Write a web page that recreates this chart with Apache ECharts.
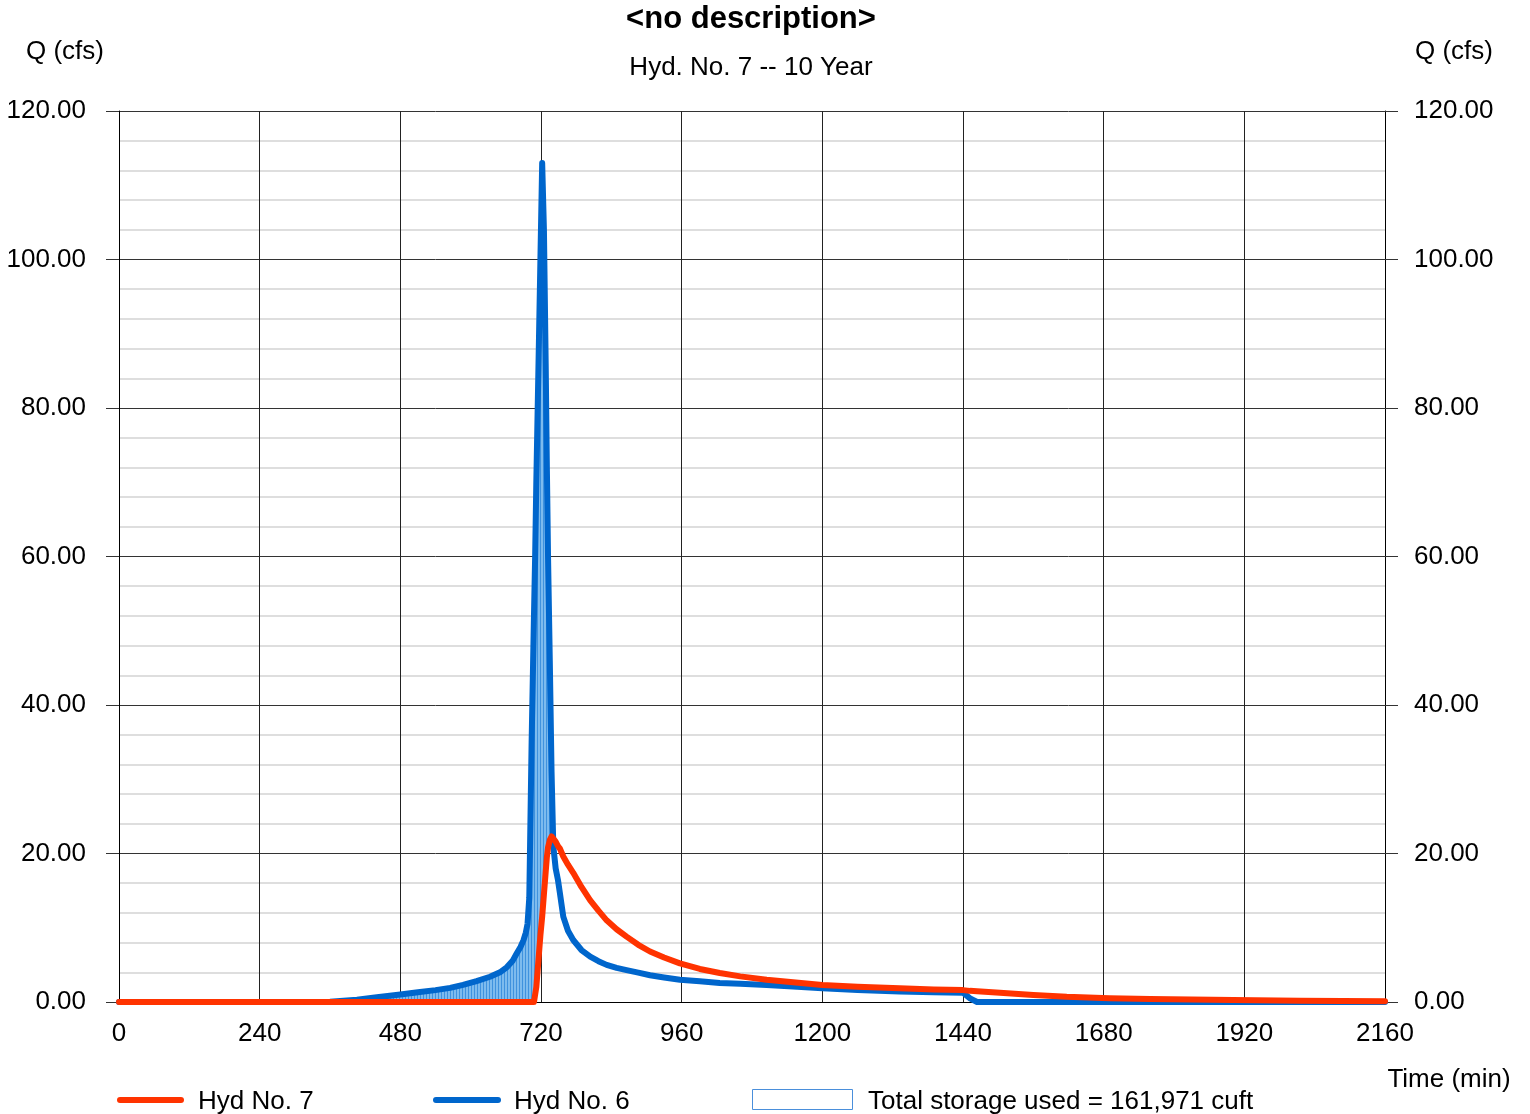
<!DOCTYPE html>
<html>
<head>
<meta charset="utf-8">
<script src="https://cdn.jsdelivr.net/npm/echarts@6/dist/echarts.min.js"></script>
<style>
html,body{margin:0;padding:0;background:#fff;}
#chart{width:1530px;height:1114px;}
</style>
</head>
<body>
<div id="chart"></div>
<script>
// ---- Data (time in minutes, flow in cfs) ----
var time = [0, 300, 360, 406, 440, 480, 510, 540, 565, 587, 610, 633, 650, 662, 672, 679, 685, 690, 694, 697, 700, 704, 708, 710, 712, 716, 719, 722, 725, 728, 730, 732, 735, 738, 741, 745, 749, 752, 758, 766, 775, 789, 804, 818, 832, 849, 866, 886, 906, 930, 957, 991, 1025, 1060, 1105, 1150, 1200, 1260, 1332, 1390, 1440, 1452, 1464, 1503, 1560, 1617, 1690, 1759, 1830, 1901, 2015, 2160];
var hyd6 = [0, 0, 0.05, 0.3, 0.65, 1.0, 1.3, 1.6, 1.9, 2.3, 2.8, 3.4, 4.0, 4.7, 5.6, 6.6, 7.4, 8.3, 9.3, 10.5, 14, 35, 52, 60, 70, 87, 100, 113, 104, 86, 72, 60, 46, 31, 21, 18, 16.4, 14.8, 11.5, 9.6, 8.35, 7.0, 6.1, 5.5, 5.0, 4.6, 4.3, 3.95, 3.6, 3.3, 3.0, 2.8, 2.55, 2.45, 2.3, 2.1, 1.85, 1.6, 1.4, 1.3, 1.25, 0.5, 0, 0, 0, 0, 0, 0, 0, 0, 0, 0];
var hyd7 = [0, 0, 0, 0, 0, 0, 0, 0, 0, 0, 0, 0, 0, 0, 0, 0, 0, 0, 0, 0, 0, 0, 0, 0, 2, 6, 9, 11.5, 14.5, 17.5, 19.5, 20.8, 21.8, 22.3, 22, 21.6, 21.0, 20.7, 19.6, 18.5, 17.4, 15.5, 13.7, 12.3, 11, 9.8, 8.8, 7.7, 6.8, 6.0, 5.2, 4.45, 3.9, 3.45, 3.0, 2.65, 2.3, 2.05, 1.85, 1.7, 1.6, 1.5, 1.45, 1.25, 0.95, 0.7, 0.52, 0.4, 0.33, 0.27, 0.17, 0.1];
var xTicks = [0, 240, 480, 720, 960, 1200, 1440, 1680, 1920, 2160];
var yTicks = [0, 20, 40, 60, 80, 100, 120];
var titleText = '<no description>';
var subTitleText = 'Hyd. No. 7 -- 10 Year';
var legendNames = ['Hyd No. 7', 'Hyd No. 6', 'Total storage used = 161,971 cuft'];

// ---- Build series data ----
function pairs(vals){ return time.map(function(t,i){ return [t, vals[i]]; }); }

// hatch pattern for storage fill
var pc = document.createElement('canvas');
pc.width = 3; pc.height = 4;
var pctx = pc.getContext('2d');
pctx.fillStyle = '#7DBBEE'; pctx.fillRect(0,0,3,4);
pctx.fillStyle = '#3F92DE'; pctx.fillRect(0,0,1,4);

var FONT = '"Liberation Sans", Arial, sans-serif';
var chart = echarts.init(document.getElementById('chart'), null, {renderer:'canvas'});

var yAxisCommon = {
  type:'value', min:0, max:120, interval:20,
  axisLine:{show:true, lineStyle:{color:'#000', width:1}},
  axisTick:{show:true, length:13, inside:false, lineStyle:{color:'#333'}},
  minorTick:{show:false, splitNumber:5},
  minorSplitLine:{show:true, lineStyle:{color:'#D4D4D4', width:1.5}},
  splitLine:{show:true, lineStyle:{color:'#333', width:1}},
  axisLabel:{color:'#000', fontSize:26, fontFamily:FONT, formatter:function(v){return v.toFixed(2);}}
};

// storage polygon: between Hyd No. 6 (upper) and Hyd No. 7 (lower) where inflow exceeds outflow
function renderStorage(params, api){
  var upper = [], lower = [];
  for (var i = 0; i < time.length; i++){
    upper.push(api.coord([time[i], Math.max(hyd6[i], hyd7[i])]));
    lower.push(api.coord([time[i], hyd7[i]]));
  }
  var pts = upper.concat(lower.reverse());
  return {type:'polygon', shape:{points:pts}, style:{fill:{image:pc, repeat:'repeat'}, stroke:null}, silent:true};
}

chart.setOption({
  animation:false,
  backgroundColor:'#fff',
  grid:{left:119, right:145, top:111, bottom:112, containLabel:false},
  xAxis:{
    type:'value', min:0, max:2160, interval:240,
    axisLine:{show:true, lineStyle:{color:'#000'}},
    axisTick:{show:false},
    splitLine:{show:true, lineStyle:{color:'#222', width:1}},
    axisLabel:{color:'#000', fontSize:26, fontFamily:FONT, margin:19, formatter:function(v){return String(v);}}
  },
  yAxis:[
    Object.assign({}, yAxisCommon, {position:'left', axisLabel:Object.assign({}, yAxisCommon.axisLabel, {margin:33})}),
    Object.assign({}, yAxisCommon, {position:'right', splitLine:{show:false}, minorSplitLine:{show:false}, axisLabel:Object.assign({}, yAxisCommon.axisLabel, {margin:29})})
  ],
  series:[
    {name:legendNames[2], type:'custom', data:[[0,0]], renderItem:renderStorage, silent:true, z:1, clip:true},
    {name:legendNames[1], type:'line', data:pairs(hyd6), symbol:'none',
     lineStyle:{color:'#0066CC', width:6, join:'round', cap:'round'}, z:3},
    {name:legendNames[0], type:'line', data:pairs(hyd7), symbol:'none',
     lineStyle:{color:'#FF3300', width:6, join:'round', cap:'round'}, z:4}
  ],
  graphic:[
    {type:'text', x:751, y:19, style:{text:titleText, font:'bold 31px '+FONT, fill:'#000', align:'center', verticalAlign:'middle'}},
    {type:'text', x:751, y:68, style:{text:subTitleText, font:'26px '+FONT, fill:'#000', align:'center', verticalAlign:'middle'}},
    {type:'text', x:65, y:52, style:{text:'Q (cfs)', font:'26px '+FONT, fill:'#000', align:'center', verticalAlign:'middle'}},
    {type:'text', x:1454, y:52, style:{text:'Q (cfs)', font:'26px '+FONT, fill:'#000', align:'center', verticalAlign:'middle'}},
    {type:'text', x:1449, y:1080, style:{text:'Time (min)', font:'26px '+FONT, fill:'#000', align:'center', verticalAlign:'middle'}},
    {type:'line', shape:{x1:120, y1:1100, x2:181, y2:1100}, style:{stroke:'#FF3300', lineWidth:6, lineCap:'round'}},
    {type:'text', x:198, y:1102, style:{text:legendNames[0], font:'26px '+FONT, fill:'#000', align:'left', verticalAlign:'middle'}},
    {type:'line', shape:{x1:436, y1:1100, x2:498, y2:1100}, style:{stroke:'#0066CC', lineWidth:6, lineCap:'round'}},
    {type:'text', x:514, y:1102, style:{text:legendNames[1], font:'26px '+FONT, fill:'#000', align:'left', verticalAlign:'middle'}},
    {type:'rect', shape:{x:752.5, y:1089.5, width:100, height:20}, style:{fill:'#fff', stroke:'#4A8FDB', lineWidth:1}},
    {type:'text', x:868, y:1102, style:{text:legendNames[2], font:'26px '+FONT, fill:'#000', align:'left', verticalAlign:'middle'}}
  ]
});
</script>
</body>
</html>
